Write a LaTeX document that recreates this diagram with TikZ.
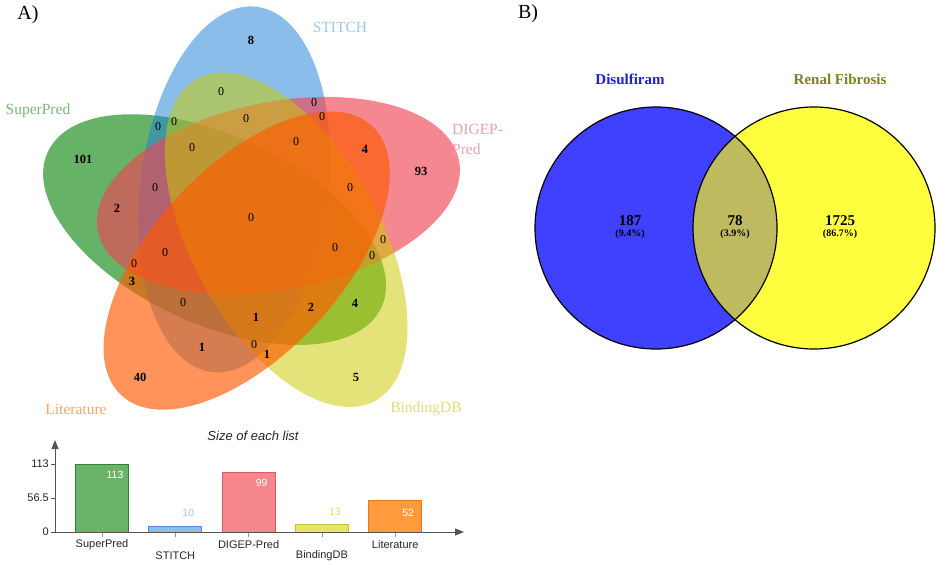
\documentclass[tikz,border=0pt]{standalone}
\usepackage{fontspec}
\setmainfont{Liberation Serif}
\setsansfont{Liberation Sans}
\usetikzlibrary{arrows.meta}
\definecolor{cgreen}{RGB}{0,127,0}
\definecolor{cblue}{RGB}{32,129,216}
\definecolor{cpink}{RGB}{240,69,85}
\definecolor{cyellow}{RGB}{203,203,0}
\definecolor{corange}{RGB}{255,90,0}
\definecolor{lgreen}{RGB}{120,185,120}
\definecolor{lblue}{RGB}{160,200,228}
\definecolor{lpink}{RGB}{235,160,170}
\definecolor{lorange}{RGB}{242,170,100}
\definecolor{lyellow}{RGB}{222,222,130}
\definecolor{bgreenf}{RGB}{106,180,106}
\definecolor{bgreend}{RGB}{50,130,50}
\definecolor{bbluef}{RGB}{140,190,235}
\definecolor{bblued}{RGB}{80,140,210}
\definecolor{bpinkf}{RGB}{245,135,140}
\definecolor{bpinkd}{RGB}{215,90,100}
\definecolor{byellowf}{RGB}{230,230,100}
\definecolor{byellowd}{RGB}{195,195,50}
\definecolor{borangef}{RGB}{255,155,60}
\definecolor{boranged}{RGB}{230,120,30}
\definecolor{axisgrey}{RGB}{85,85,85}
\definecolor{vblue}{RGB}{64,64,255}
\definecolor{vyellow}{RGB}{255,255,64}
\definecolor{vinter}{RGB}{190,186,96}
\definecolor{tblue}{RGB}{30,30,220}
\definecolor{tolive}{RGB}{128,128,32}
\begin{document}
\begin{tikzpicture}[x=1pt,y=-1pt,
  ell/.style={x radius=184pt, y radius=94pt},
  zero/.style={inner sep=0pt, font=\fontsize{12}{14}\selectfont},
  nzero/.style={inner sep=0pt, font=\fontsize{12.5}{14}\selectfont\bfseries},
  setlab/.style={inner sep=0pt, font=\fontsize{15.5}{18}\selectfont},
  panel/.style={inner sep=0pt, font=\fontsize{20}{24}\selectfont},
  chart/.style={inner sep=0pt, font=\sffamily\fontsize{11}{13}\selectfont, text=black!85},
  barval/.style={inner sep=0pt, font=\sffamily\fontsize{10.5}{12}\selectfont},
  bar/.style={line width=0.9pt},
  axisline/.style={draw=axisgrey, line width=1pt, -{Triangle[length=9pt,width=7pt]}},
  bnum/.style={inner sep=0pt, font=\fontsize{15}{17}\selectfont\bfseries},
  bpct/.style={inner sep=0pt, font=\fontsize{10}{12}\selectfont\bfseries},
  btitle/.style={inner sep=0pt, font=\fontsize{15}{18}\selectfont\bfseries},
  circ/.style={draw=black, line width=1.2pt}
]
\useasboundingbox (0,0) rectangle (941,564);
\fill[white] (0,0) rectangle (941,564);

% ---------- Panel A : five-set Venn ----------
\node[panel] (pa) at (28,15) {A)};
\fill[cgreen, fill opacity=0.6, rotate around={155:(214.6,229.6)}] (214.6,229.6) ellipse [ell];
\fill[cblue, fill opacity=0.52, rotate around={83:(234.2,189.4)}] (234.2,189.4) ellipse [ell];
\fill[cpink, fill opacity=0.645, rotate around={11:(278.4,195.7)}] (278.4,195.7) ellipse [ell];
\fill[cyellow, fill opacity=0.52, rotate around={-61:(286.2,239.7)}] (286.2,239.7) ellipse [ell];
\fill[corange, fill opacity=0.65, rotate around={-133:(246.7,260.6)}] (246.7,260.6) ellipse [ell];

\node[setlab, text=lgreen] (lsp) at (38,111) {SuperPred};
\node[setlab, text=lblue] (lst) at (340,27) {STITCH};
\node[setlab, text=lpink, anchor=west] (ldga) at (452,129) {DIGEP-};
\node[setlab, text=lpink, anchor=west] (ldgb) at (452,149) {Pred};
\node[setlab, text=lorange] (llit) at (76,409) {Literature};
\node[setlab, text=lyellow] (lbdb) at (426,409) {BindingDB};

\foreach \x/\y [count=\i] in {221/92, 158/127, 174/122, 314/103, 322/117, 246/119, 192/148, 296/142, 155/188, 350/188, 251/218, 383/240, 372/256, 335/248, 165/253, 134/264, 183/303, 254/345}
  \node[zero] (z\i) at (\x,\y) {0};
\foreach \x/\y/\t [count=\i] in {251/40/8, 365/149/4, 421/171/93, 83/159/101, 117/208/2, 132/281/3, 256/317/1, 311/307/2, 355/303/4, 202/347/1, 267/354/1, 356/377/5, 140/377/40}
  \node[nzero] (nz\i) at (\x,\y) {\t};

% ---------- Bar chart ----------
\node[inner sep=0pt, font=\sffamily\itshape\fontsize{13}{15}\selectfont, text=black!85] (ctitle) at (253,436) {Size of each list};
\coordinate (origin) at (55,532);
\coordinate (ytop) at (55,440);
\coordinate (xend) at (464,532);
\foreach \c/\f/\d/\v/\n/\lab/\ly/\vc/\vy [count=\i] in {
   102.0/bgreenf/bgreend/113/SuperPred/SuperPred/545/white/475,
   175.3/bbluef/bblued/10/STITCH/STITCH/556/lblue/513,
   248.6/bpinkf/bpinkd/99/DIGEP-Pred/DIGEP-Pred/545/white/483,
   321.9/byellowf/byellowd/13/BindingDB/BindingDB/556/lyellow/512,
   395.2/borangef/boranged/52/Literature/Literature/545/white/513}{
  \pgfmathsetmacro{\top}{532-\v*68/113}
  \filldraw[bar, fill=\f, draw=\d] (\c-26.5,532) rectangle (\c+26.5,\top);
  \draw[axisgrey!60, line width=0.8pt] (\c,532) -- (\c,537);
  \node[chart] (xl\i) at (\c,\ly) {\lab};
  \node[barval, text=\vc] (bv\i) at (\c+13,\vy) {\v};
}
\draw[axisline] (origin) -- (ytop);
\draw[axisline] (origin) -- (xend);
\foreach \y/\t [count=\i] in {464/113, 498/56.5, 532/0}{
  \draw[axisgrey, line width=0.8pt] (51,\y) -- (55,\y);
  \node[chart, anchor=east] (yt\i) at (49,\y) {\t};
}

% ---------- Panel B : two-set Venn ----------
\node[panel] (pb) at (528,14) {B)};
\fill[vblue] (656,228) circle [radius=121pt];
\fill[vyellow] (814,228) circle [radius=121pt];
\begin{scope}
  \clip (656,228) circle [radius=121pt];
  \fill[vinter] (814,228) circle [radius=121pt];
\end{scope}
\draw[circ] (656,228) circle [radius=121pt];
\draw[circ] (814,228) circle [radius=121pt];
\node[btitle, text=tblue] (tdis) at (630,79) {Disulfiram};
\node[btitle, text=tolive] (tren) at (840,79) {Renal Fibrosis};
\node[bnum] (b1) at (630,221) {187};
\node[bpct] (p1) at (630,234) {(9.4\%)};
\node[bnum] (b2) at (735,221) {78};
\node[bpct] (p2) at (735,234) {(3.9\%)};
\node[bnum] (b3) at (840,221) {1725};
\node[bpct] (p3) at (840,234) {(86.7\%)};
\end{tikzpicture}
\end{document}
